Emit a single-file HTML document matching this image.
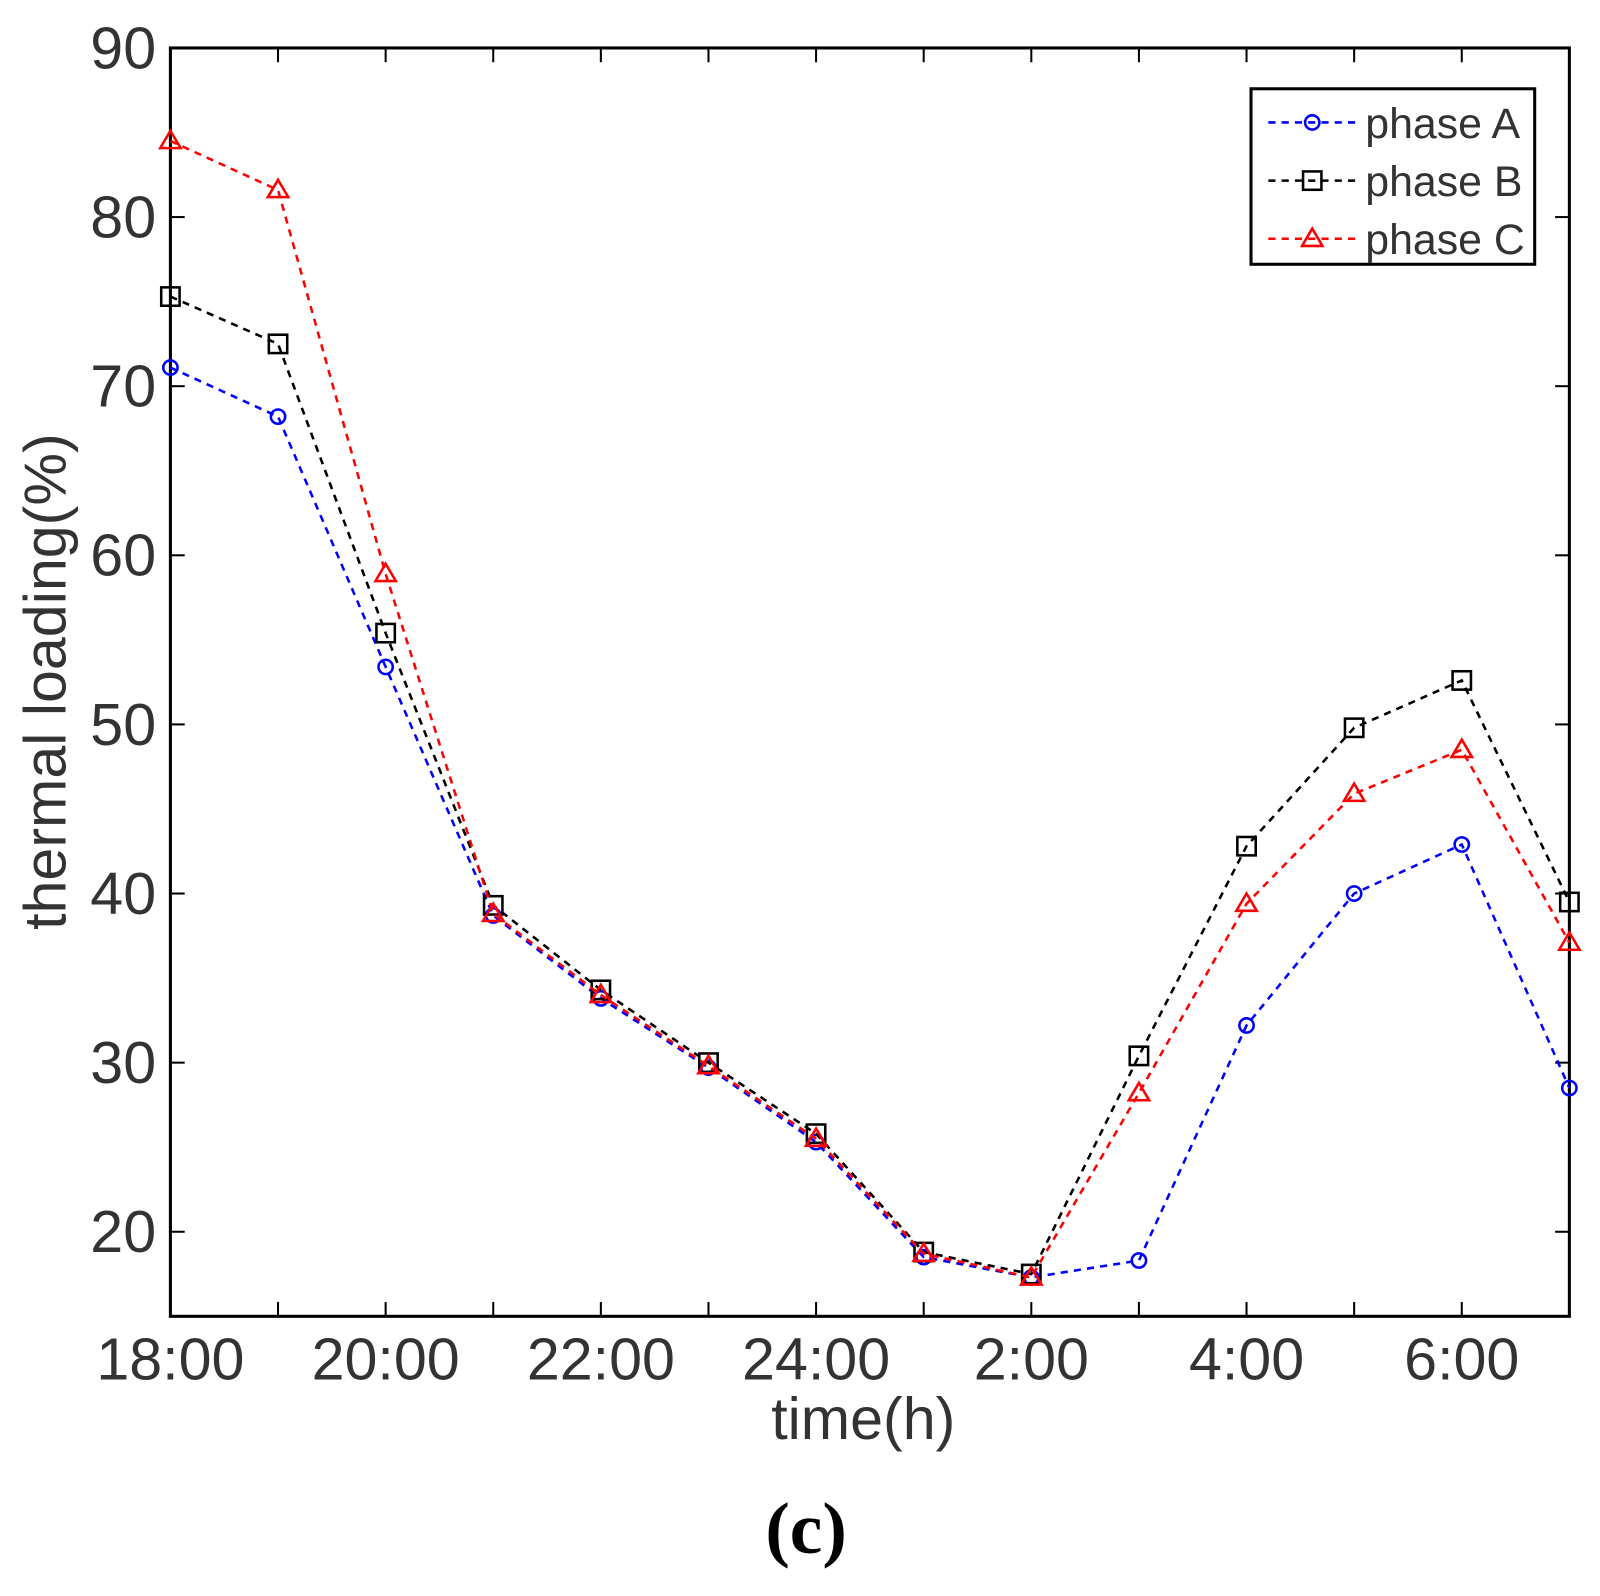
<!DOCTYPE html>
<html><head><meta charset="utf-8"><style>
html,body{margin:0;padding:0;background:#fff;}
svg text{font-family:"Liberation Sans",sans-serif;}
</style></head><body>
<svg id="chart" width="1600" height="1591" viewBox="0 0 1600 1591" xmlns="http://www.w3.org/2000/svg">
<rect x="0" y="0" width="1600" height="1591" fill="#fff"/>
<g transform="scale(1.0204)">
<g id="grid"></g>
<rect x="167" y="47" width="1371" height="1243" fill="none" stroke="#000" stroke-width="3"/>
<g id="series"></g>
<text x="846" y="1410" font-size="58" fill="#333" text-anchor="middle">time(h)</text>
<text transform="translate(64,668) rotate(-90)" font-size="58" fill="#333" text-anchor="middle">thermal loading(%)</text>
<text x="790" y="1522" font-size="72" font-weight="bold" text-anchor="middle" style="font-family:'Liberation Serif',serif">(c)</text>
<g>
<rect x="1226" y="87" width="278" height="172" fill="#fff" stroke="#000" stroke-width="3"/>
<g id="legend-items"></g>
</g>
</g>
</svg>
<script>
const hours = [0,1,2,3,4,5,6,7,8,9,10,11,12,13];
const xTickLabels = ["18:00","20:00","22:00","24:00","2:00","4:00","6:00"];
const yTicks = [20,30,40,50,60,70,80,90];
const phaseA = [71.1,68.2,53.4,38.7,33.8,29.7,25.3,18.5,17.3,18.3,32.2,40.0,42.9,28.5];
const phaseB = [75.3,72.5,55.4,39.3,34.3,30.0,25.8,18.8,17.5,30.4,42.8,49.8,52.6,39.5];
const phaseC = [84.5,81.6,58.9,38.8,34.0,29.8,25.5,18.7,17.3,28.2,39.4,45.9,48.5,37.1];

const NS="http://www.w3.org/2000/svg";
const L=167,R=1538,T=47,B=1290,yMin=15,yMax=90,xMax=13;
const sx=v=>L+(R-L)*v/xMax;
const sy=v=>B-(B-T)*(v-yMin)/(yMax-yMin);
function mk(tag,attrs,parent){const e=document.createElementNS(NS,tag);for(const k in attrs)e.setAttribute(k,attrs[k]);parent.appendChild(e);return e;}
const grid=document.getElementById('grid');
hours.forEach(h=>{
  const t1=mk('line',{x1:sx(h),x2:sx(h),y1:B,y2:B-14,stroke:'#000','stroke-width':2},grid);
  
  
  const t2=mk('line',{x1:sx(h),x2:sx(h),y1:T,y2:T+14,stroke:'#000','stroke-width':2},grid);
  
  
});
xTickLabels.forEach((s,i)=>{
  const t=mk('text',{x:sx(i*2),y:1352,'font-size':58,fill:'#333','text-anchor':'middle'},grid);
  t.textContent=s;
  
  
});
yTicks.forEach(v=>{
  const a=mk('line',{x1:L,x2:L+14,y1:sy(v),y2:sy(v),stroke:'#000','stroke-width':2},grid);
  
  
  const b=mk('line',{x1:R,x2:R-14,y1:sy(v),y2:sy(v),stroke:'#000','stroke-width':2},grid);
  
  
  const t=mk('text',{x:153,y:sy(v)+20,'font-size':58,fill:'#333','text-anchor':'end'},grid);
  t.textContent=v;
  
  
});
function marker(type,x,y,color,parent){
  let e;
  if(type==='o') e=mk('circle',{cx:x,cy:y,r:7,fill:'none',stroke:color,'stroke-width':2.5},parent);
  else if(type==='s') e=mk('rect',{x:x-9,y:y-9,width:18,height:18,fill:'none',stroke:color,'stroke-width':2.5},parent);
  else e=mk('polygon',{points:`${x},${y-10} ${x+10},${y+7} ${x-10},${y+7}`,fill:'none',stroke:color,'stroke-width':2.5},parent);
  return e;
}
const series=[
  {name:'phase-a',label:'phase A',data:phaseA,color:'#0000ff',m:'o'},
  {name:'phase-b',label:'phase B',data:phaseB,color:'#000',m:'s'},
  {name:'phase-c',label:'phase C',data:phaseC,color:'#ff0000',m:'^'}
];
const sg=document.getElementById('series');
series.forEach(s=>{
  const g=mk('g',{},sg);
  
  
  const p=mk('polyline',{points:s.data.map((v,i)=>sx(hours[i])+','+sy(v)).join(' '),fill:'none',stroke:s.color,'stroke-width':2.5,'stroke-dasharray':'7,6'},g);
  
  
  s.data.forEach((v,i)=>{
    const m=marker(s.m,sx(hours[i]),sy(v),s.color,g);
    
    
  });
});
const lg=document.getElementById('legend-items');
series.forEach((s,i)=>{
  const y=120+i*57;
  const g=mk('g',{},lg);
  
  
  mk('line',{x1:1243,x2:1328,y1:y,y2:y,stroke:s.color,'stroke-width':2.5,'stroke-dasharray':'7,6'},g);
  marker(s.m,1286,y,s.color,g);
  const t=mk('text',{x:1338,y:y+15,'font-size':42,fill:'#333'},g);
  t.textContent=s.label;
});
</script>
</body></html>
